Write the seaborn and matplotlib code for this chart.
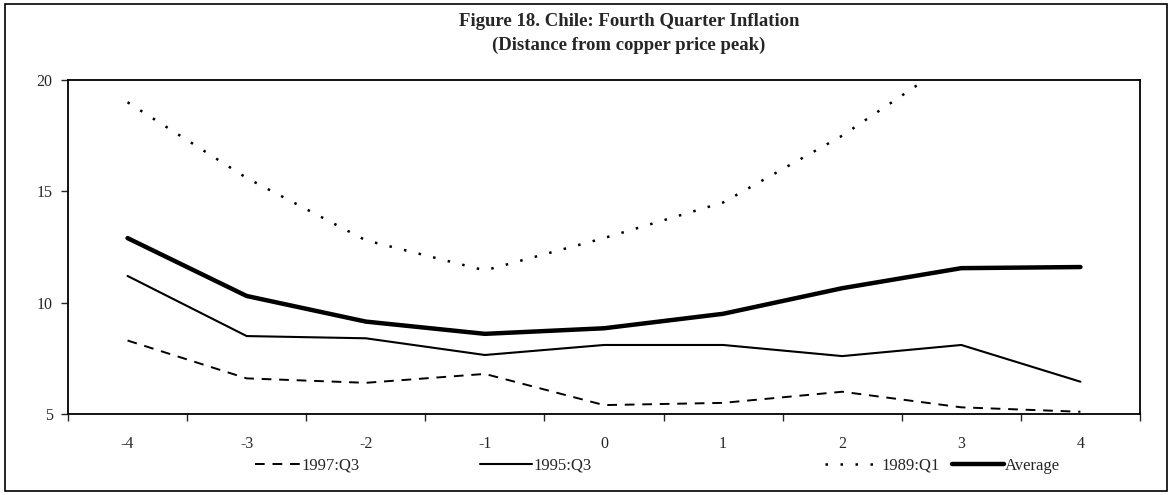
import numpy as np
import pandas as pd
import matplotlib
matplotlib.use("Agg")
import matplotlib.pyplot as plt
from matplotlib.lines import Line2D
from matplotlib.patches import Rectangle
from matplotlib.ticker import FixedLocator
import seaborn as sns

# Quarters relative to the copper price peak
quarters = [-4, -3, -2, -1, 0, 1, 2, 3, 4]

# Fourth quarter inflation
q3_1997 = [8.3, 6.6, 6.4, 6.8, 5.4, 5.5, 6.0, 5.3, 5.1]
q3_1995 = [11.2, 8.5, 8.4, 7.65, 8.1, 8.1, 7.6, 8.1, 6.45]
q1_1989 = [19.0, 15.6, 12.8, 11.45, 12.9, 14.5, 17.5, 21.1, 23.3]
average = [12.9, 10.3, 9.15, 8.6, 8.85, 9.5, 10.65, 11.55, 11.6]

series_names = ["1997:Q3", "1995:Q3", "1989:Q1", "Average"]

df = pd.DataFrame({
    "quarter": quarters * 4,
    "inflation": q3_1997 + q3_1995 + q1_1989 + average,
    "series": np.repeat(series_names, len(quarters)),
})

sns.set_style("white")
plt.rcParams["font.family"] = ["Liberation Serif", "DejaVu Serif"]

fig = plt.figure(figsize=(11.75, 4.95), dpi=100)
ax = fig.add_axes([68 / 1175, 1 - 414 / 495, (1140 - 68) / 1175, (414 - 80) / 495])

styles = {
    "1997:Q3": dict(linestyle=(0, (5, 4)), linewidth=1.4),
    "1995:Q3": dict(linestyle="-", linewidth=1.5),
    "1989:Q1": dict(linestyle=(0, (1, 5)), linewidth=1.8),
    "Average": dict(linestyle="-", linewidth=3.2),
}

for name in series_names:
    sub = df[df["series"] == name]
    sns.lineplot(x="quarter", y="inflation", data=sub, ax=ax, color="black",
                 legend=False, **styles[name])

ax.set_xlim(-4.5, 4.5)
ax.set_ylim(5, 20)
ax.set_xticks(quarters)
ax.set_xticklabels([str(q) for q in quarters])
ax.xaxis.set_minor_locator(FixedLocator(np.arange(-4.5, 4.6, 1)))
ax.set_yticks([5, 10, 15, 20])
ax.tick_params(axis="x", which="major", length=0, pad=16, labelsize=11.5)
ax.tick_params(axis="x", which="minor", length=5, width=1, direction="out", bottom=True)
ax.tick_params(axis="y", length=5, width=1, direction="out", left=True, pad=6, labelsize=11.5)
ax.set_xlabel("")
ax.set_ylabel("")
for side in ["left", "bottom", "top", "right"]:
    ax.spines[side].set_visible(True)
    ax.spines[side].set_color("black")
    ax.spines[side].set_linewidth(1.3)

# Title
fig.text(629 / 1175, 1 - 22 / 495, "Figure 18. Chile: Fourth Quarter Inflation",
         ha="center", va="center", fontsize=13.5, fontweight="bold")
fig.text(629 / 1175, 1 - 45 / 495, "(Distance from copper price peak)",
         ha="center", va="center", fontsize=13.5, fontweight="bold")

# Legend entries placed individually, as in the original
legend_x = [255, 480, 825, 952]
handle_len = [2.7, 3.1, 3.3, 3.1]
for name, x0, hl in zip(series_names, legend_x, handle_len):
    handle = Line2D([], [], color="black", **styles[name])
    fig.legend(handles=[handle], labels=[name], loc="center left",
               bbox_to_anchor=(x0 / 1175, 1 - 466 / 495), frameon=False,
               handlelength=hl, handletextpad=0.1, borderpad=0,
               borderaxespad=0, fontsize=12)

# Outer chart frame
fig.patches.append(Rectangle((5 / 1175, 4 / 495), 1162 / 1175, 487 / 495,
                             transform=fig.transFigure, fill=False,
                             edgecolor="black", linewidth=1.2))

fig.savefig("out.png", dpi=100)
